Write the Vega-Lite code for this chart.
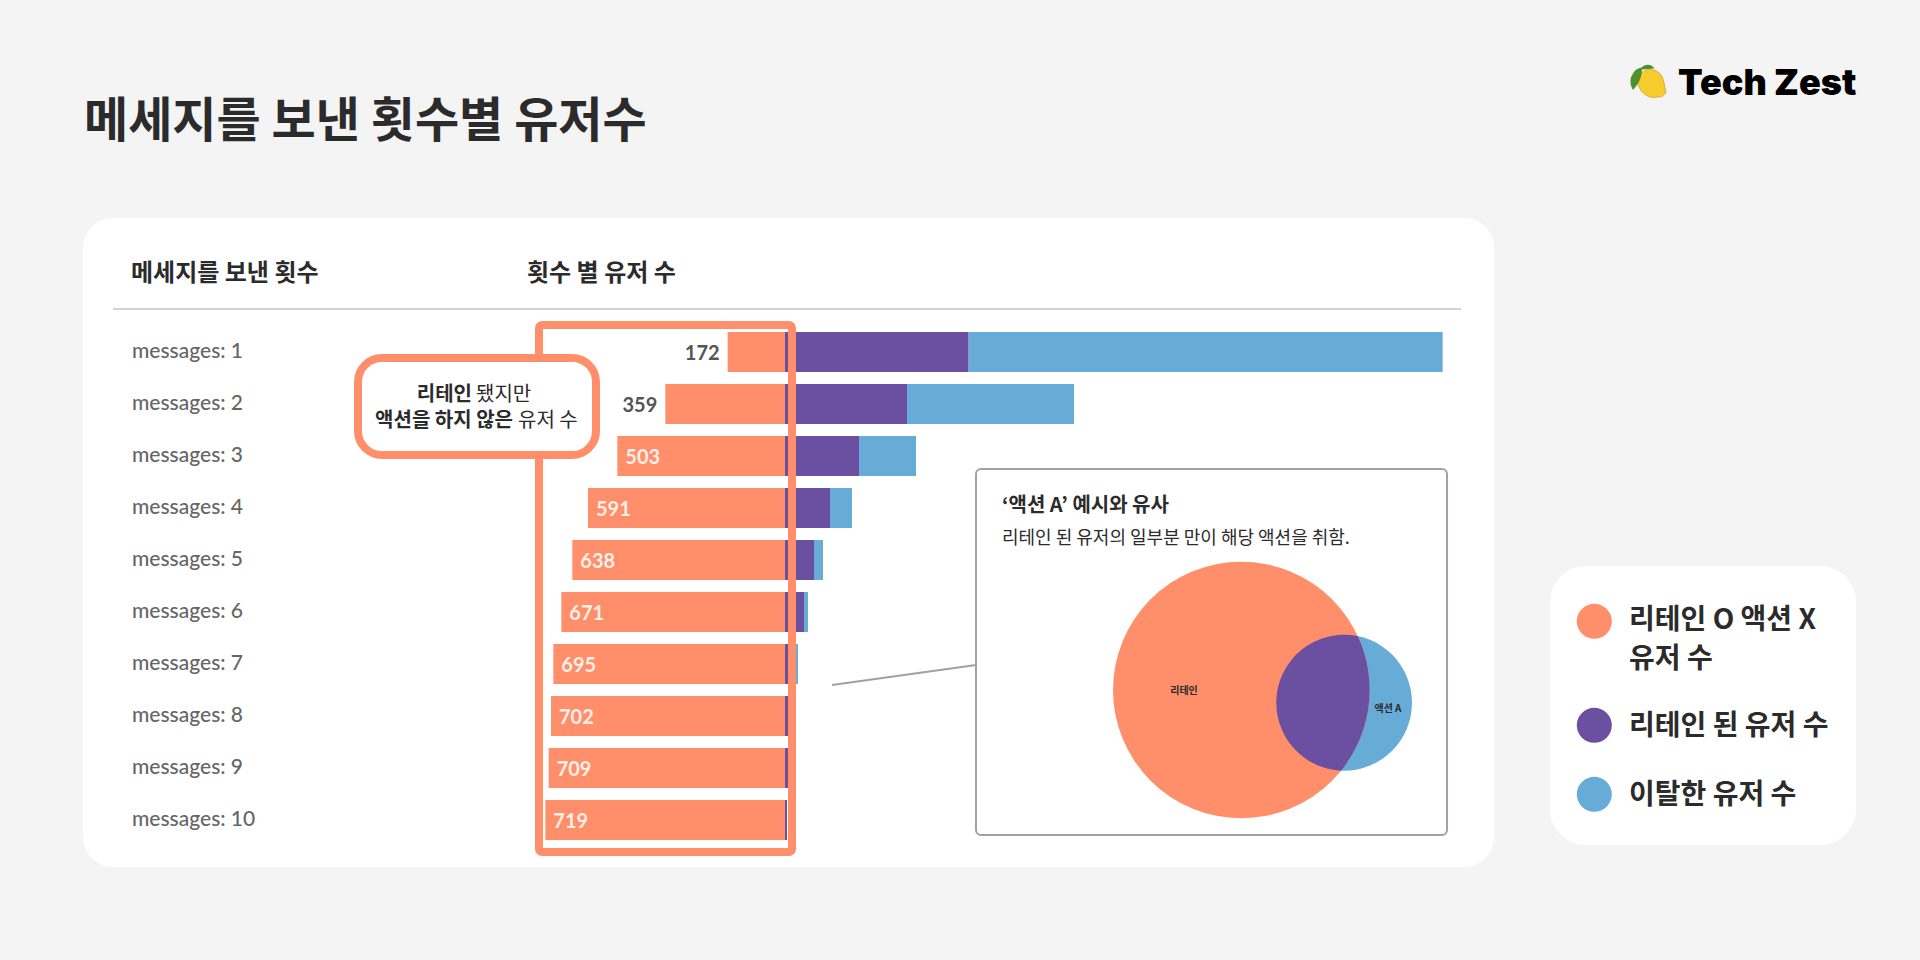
{
  "$schema": "https://vega.github.io/schema/vega-lite/v6.json",
  "width": 1920,
  "height": 960,
  "padding": 0,
  "autosize": {"type": "none"},
  "background": "#f4f4f4",
  "config": {"view": {"stroke": null}, "text": {"font": "Noto Sans CJK KR", "color": "#2b2b2b", "align": "left", "baseline": "middle", "dy": 2}},
  "datasets": {
    "users": [
      {"messages": 1, "segment": "no_action", "stack_order": 0, "users": -172, "count": 172},
      {"messages": 2, "segment": "no_action", "stack_order": 0, "users": -359, "count": 359},
      {"messages": 3, "segment": "no_action", "stack_order": 0, "users": -503, "count": 503},
      {"messages": 4, "segment": "no_action", "stack_order": 0, "users": -591, "count": 591},
      {"messages": 5, "segment": "no_action", "stack_order": 0, "users": -638, "count": 638},
      {"messages": 6, "segment": "no_action", "stack_order": 0, "users": -671, "count": 671},
      {"messages": 7, "segment": "no_action", "stack_order": 0, "users": -695, "count": 695},
      {"messages": 8, "segment": "no_action", "stack_order": 0, "users": -702, "count": 702},
      {"messages": 9, "segment": "no_action", "stack_order": 0, "users": -709, "count": 709},
      {"messages": 10, "segment": "no_action", "stack_order": 0, "users": -719, "count": 719},
      {"messages": 1, "segment": "retained", "stack_order": 1, "users": 551, "count": 551},
      {"messages": 2, "segment": "retained", "stack_order": 1, "users": 366, "count": 366},
      {"messages": 3, "segment": "retained", "stack_order": 1, "users": 222, "count": 222},
      {"messages": 4, "segment": "retained", "stack_order": 1, "users": 135, "count": 135},
      {"messages": 5, "segment": "retained", "stack_order": 1, "users": 87, "count": 87},
      {"messages": 6, "segment": "retained", "stack_order": 1, "users": 57, "count": 57},
      {"messages": 7, "segment": "retained", "stack_order": 1, "users": 30, "count": 30},
      {"messages": 8, "segment": "retained", "stack_order": 1, "users": 23, "count": 23},
      {"messages": 9, "segment": "retained", "stack_order": 1, "users": 16, "count": 16},
      {"messages": 10, "segment": "retained", "stack_order": 1, "users": 6, "count": 6},
      {"messages": 1, "segment": "churned", "stack_order": 2, "users": 1422, "count": 1422},
      {"messages": 2, "segment": "churned", "stack_order": 2, "users": 501, "count": 501},
      {"messages": 3, "segment": "churned", "stack_order": 2, "users": 171, "count": 171},
      {"messages": 4, "segment": "churned", "stack_order": 2, "users": 66, "count": 66},
      {"messages": 5, "segment": "churned", "stack_order": 2, "users": 27, "count": 27},
      {"messages": 6, "segment": "churned", "stack_order": 2, "users": 12, "count": 12},
      {"messages": 7, "segment": "churned", "stack_order": 2, "users": 9, "count": 9}
    ]
  },
  "layer": [
    {
      "data": {"values": [{"name": "main card"}]},
      "mark": {"type": "rect", "fill": "#ffffff", "cornerRadius": 30},
      "encoding": {
        "x": {"datum": -2106, "type": "quantitative", "axis": null, "scale": {"domain": [-2355, 3405], "nice": false, "zero": false, "padding": 0}},
        "x2": {"datum": 2127},
        "y": {"datum": -1.5769, "type": "quantitative", "axis": null, "scale": {"domain": [-5.7692, 12.6923], "nice": false, "zero": false, "reverse": true, "padding": 0}},
        "y2": {"datum": 10.9038}
      }
    },
    {
      "data": {"values": [{"name": "legend card"}]},
      "mark": {"type": "rect", "fill": "#ffffff", "cornerRadius": 36},
      "encoding": {
        "x": {"datum": 2295, "type": "quantitative"},
        "x2": {"datum": 3213},
        "y": {"datum": 5.1154, "type": "quantitative"},
        "y2": {"datum": 10.4808}
      }
    },
    {
      "data": {"values": [{"name": "divider"}]},
      "mark": {"type": "rule", "stroke": "#d2d2d6", "strokeWidth": 2},
      "encoding": {
        "x": {"datum": -2016, "type": "quantitative"},
        "x2": {"datum": 2028},
        "y": {"datum": 0.1731, "type": "quantitative"}
      }
    },
    {
      "data": {"values": [{"label": "메세지를 보낸 횟수별 유저수"}]},
      "mark": {"type": "text", "fontSize": 48, "fontWeight": 700, "dy": 4},
      "encoding": {
        "x": {"datum": -2103, "type": "quantitative"},
        "y": {"datum": -3.4808, "type": "quantitative"},
        "text": {"field": "label"}
      }
    },
    {
      "data": {"values": [{"label": "Tech Zest"}]},
      "mark": {"type": "text", "font": "Inter", "fontSize": 36, "fontWeight": 900, "color": "#000000"},
      "encoding": {
        "x": {"datum": 2679, "type": "quantitative"},
        "y": {"datum": -4.1923, "type": "quantitative"},
        "text": {"field": "label"}
      }
    },
    {
      "data": {"values": [{"name": "lemon"}]},
      "mark": {"type": "point", "filled": true, "opacity": 1, "size": 900, "color": "#f6cd2c", "stroke": "#e3ab3a", "strokeWidth": 1, "shape": "M-0.7,-0.6C-0.3,-1.05,0.4,-1,0.72,-0.45C0.9,-0.1,0.88,0.25,1,0.6C0.9,0.85,0.7,0.95,0.45,0.93C0.05,1.05,-0.5,0.85,-0.75,0.35C-0.95,-0.05,-0.95,-0.3,-0.7,-0.6Z"},
      "encoding": {
        "x": {"datum": 2598, "type": "quantitative"},
        "y": {"datum": -4.1731, "type": "quantitative"}
      }
    },
    {
      "data": {"values": [{"name": "leaf"}]},
      "mark": {"type": "point", "filled": true, "opacity": 1, "size": 576, "color": "#4f8f2c", "shape": "M-0.83,1.05C-1.1,0.6,-1.1,0.1,-0.9,-0.2C-0.75,-0.55,-0.5,-0.7,-0.33,-0.75L-0.08,-0.83C0.1,-1.05,0.6,-1.2,0.97,-0.75C0.6,-0.65,0.3,-0.7,-0.1,-0.65C-0.05,-0.2,-0.3,0.5,-0.83,1.05Z"},
      "encoding": {
        "x": {"datum": 2574, "type": "quantitative"},
        "y": {"datum": -4.2827, "type": "quantitative"}
      }
    },
    {
      "data": {"values": [{"label": "메세지를 보낸 횟수"}]},
      "mark": {"type": "text", "fontSize": 24, "fontWeight": 700},
      "encoding": {
        "x": {"datum": -1962, "type": "quantitative"},
        "y": {"datum": -0.5385, "type": "quantitative"},
        "text": {"field": "label"}
      }
    },
    {
      "data": {"values": [{"label": "횟수 별 유저 수"}]},
      "mark": {"type": "text", "fontSize": 24, "fontWeight": 700},
      "encoding": {
        "x": {"datum": -774, "type": "quantitative"},
        "y": {"datum": -0.5385, "type": "quantitative"},
        "text": {"field": "label"}
      }
    },
    {
      "data": {"values": [
        {"messages": 1, "label": "messages: 1"},
        {"messages": 2, "label": "messages: 2"},
        {"messages": 3, "label": "messages: 3"},
        {"messages": 4, "label": "messages: 4"},
        {"messages": 5, "label": "messages: 5"},
        {"messages": 6, "label": "messages: 6"},
        {"messages": 7, "label": "messages: 7"},
        {"messages": 8, "label": "messages: 8"},
        {"messages": 9, "label": "messages: 9"},
        {"messages": 10, "label": "messages: 10"}
      ]},
      "mark": {"type": "text", "font": "Lato", "fontSize": 21, "fontWeight": 500, "color": "#666666", "dy": 0},
      "encoding": {
        "x": {"datum": -1959, "type": "quantitative"},
        "y": {"field": "messages", "type": "quantitative"},
        "text": {"field": "label"}
      }
    },
    {
      "data": {"name": "users"},
      "mark": {"type": "bar", "orient": "horizontal", "size": 40},
      "encoding": {
        "x": {"field": "users", "type": "quantitative"},
        "y": {"field": "messages", "type": "quantitative"},
        "color": {
          "field": "segment",
          "type": "nominal",
          "legend": null,
          "scale": {"domain": ["no_action", "retained", "churned"], "range": ["#ff8f6b", "#6b4fa1", "#67acd7"]}
        },
        "order": {"field": "stack_order"}
      }
    },
    {
      "data": {"name": "users"},
      "transform": [{"filter": "datum.segment == 'no_action' && datum.count < 400"}],
      "mark": {"type": "text", "font": "Lato", "fontSize": 20, "fontWeight": 700, "color": "#555555", "align": "right", "dx": -8, "dy": 2},
      "encoding": {
        "x": {"field": "users", "type": "quantitative", "stack": null},
        "y": {"field": "messages", "type": "quantitative"},
        "text": {"field": "count", "type": "quantitative"}
      }
    },
    {
      "data": {"name": "users"},
      "transform": [{"filter": "datum.segment == 'no_action' && datum.count >= 400"}],
      "mark": {"type": "text", "font": "Lato", "fontSize": 20, "fontWeight": 700, "color": "#fdeee6", "align": "left", "dx": 8, "dy": 2},
      "encoding": {
        "x": {"field": "users", "type": "quantitative", "stack": null},
        "y": {"field": "messages", "type": "quantitative"},
        "text": {"field": "count", "type": "quantitative"}
      }
    },
    {
      "data": {"values": [{"name": "highlight box"}]},
      "mark": {"type": "rect", "fillOpacity": 0, "stroke": "#ff8f6b", "strokeWidth": 8, "cornerRadius": 3},
      "encoding": {
        "x": {"datum": -738, "type": "quantitative"},
        "x2": {"datum": 21},
        "y": {"datum": 0.4808, "type": "quantitative"},
        "y2": {"datum": 10.6154}
      }
    },
    {
      "data": {"values": [{"name": "callout"}]},
      "mark": {"type": "rect", "fill": "#ffffff", "stroke": "#ff8f6b", "strokeWidth": 8, "cornerRadius": 24},
      "encoding": {
        "x": {"datum": -1281, "type": "quantitative"},
        "x2": {"datum": -567},
        "y": {"datum": 1.1154, "type": "quantitative"},
        "y2": {"datum": 2.9808}
      }
    },
    {
      "data": {"values": [{"label": "리테인"}]},
      "mark": {"type": "text", "fontSize": 20, "fontWeight": 700, "align": "right"},
      "encoding": {
        "x": {"datum": -939, "type": "quantitative"},
        "y": {"datum": 1.7885, "type": "quantitative"},
        "text": {"field": "label"}
      }
    },
    {
      "data": {"values": [{"label": "됐지만"}]},
      "mark": {"type": "text", "fontSize": 20, "fontWeight": 400},
      "encoding": {
        "x": {"datum": -927, "type": "quantitative"},
        "y": {"datum": 1.7885, "type": "quantitative"},
        "text": {"field": "label"}
      }
    },
    {
      "data": {"values": [{"label": "액션을 하지 않은"}]},
      "mark": {"type": "text", "fontSize": 20, "fontWeight": 700, "align": "right"},
      "encoding": {
        "x": {"datum": -816, "type": "quantitative"},
        "y": {"datum": 2.2885, "type": "quantitative"},
        "text": {"field": "label"}
      }
    },
    {
      "data": {"values": [{"label": "유저 수"}]},
      "mark": {"type": "text", "fontSize": 20, "fontWeight": 400},
      "encoding": {
        "x": {"datum": -801, "type": "quantitative"},
        "y": {"datum": 2.2885, "type": "quantitative"},
        "text": {"field": "label"}
      }
    },
    {
      "data": {"values": [{"name": "leader"}]},
      "mark": {"type": "rule", "stroke": "#a0a0a8", "strokeWidth": 2},
      "encoding": {
        "x": {"datum": 141, "type": "quantitative"},
        "x2": {"datum": 573},
        "y": {"datum": 7.4038, "type": "quantitative"},
        "y2": {"datum": 7.0192}
      }
    },
    {
      "data": {"values": [{"name": "inset"}]},
      "mark": {"type": "rect", "fill": "#ffffff", "stroke": "#a0a0a8", "strokeWidth": 2, "cornerRadius": 5},
      "encoding": {
        "x": {"datum": 573, "type": "quantitative"},
        "x2": {"datum": 1986},
        "y": {"datum": 3.25, "type": "quantitative"},
        "y2": {"datum": 10.2885}
      }
    },
    {
      "data": {"values": [{"label": "‘액션 A’ 예시와 유사"}]},
      "mark": {"type": "text", "fontSize": 20, "fontWeight": 700},
      "encoding": {
        "x": {"datum": 651, "type": "quantitative"},
        "y": {"datum": 3.9231, "type": "quantitative"},
        "text": {"field": "label"}
      }
    },
    {
      "data": {"values": [{"label": "리테인 된 유저의 일부분 만이 해당 액션을 취함."}]},
      "mark": {"type": "text", "fontSize": 18, "fontWeight": 400},
      "encoding": {
        "x": {"datum": 651, "type": "quantitative"},
        "y": {"datum": 4.5577, "type": "quantitative"},
        "text": {"field": "label"}
      }
    },
    {
      "data": {"values": [{"set": "액션 A"}]},
      "mark": {"type": "point", "shape": "circle", "filled": true, "opacity": 1, "size": 18496, "color": "#67acd7"},
      "encoding": {
        "x": {"datum": 1677, "type": "quantitative"},
        "y": {"datum": 7.7442, "type": "quantitative"}
      }
    },
    {
      "data": {"values": [{"set": "리테인"}]},
      "mark": {"type": "point", "shape": "circle", "filled": true, "opacity": 1, "size": 65844, "color": "#ff8f6b"},
      "encoding": {
        "x": {"datum": 1368.9, "type": "quantitative"},
        "y": {"datum": 7.5, "type": "quantitative"}
      }
    },
    {
      "data": {"values": [{"set": "overlap"}]},
      "mark": {"type": "point", "filled": true, "opacity": 1, "size": 18496, "color": "#6b4fa1", "shape": "M0.2019,-0.9797A1,1,0,1,0,-0.0428,0.9994A1.8868,1.8868,0,0,0,0.2019,-0.9797Z"},
      "encoding": {
        "x": {"datum": 1677, "type": "quantitative"},
        "y": {"datum": 7.7442, "type": "quantitative"}
      }
    },
    {
      "data": {"values": [{"label": "리테인"}]},
      "mark": {"type": "text", "fontSize": 10, "fontWeight": 700, "align": "center", "dy": 1},
      "encoding": {
        "x": {"datum": 1197, "type": "quantitative"},
        "y": {"datum": 7.5, "type": "quantitative"},
        "text": {"field": "label"}
      }
    },
    {
      "data": {"values": [{"label": "액션 A"}]},
      "mark": {"type": "text", "fontSize": 10, "fontWeight": 700, "align": "center", "dy": 1},
      "encoding": {
        "x": {"datum": 1809, "type": "quantitative"},
        "y": {"datum": 7.8462, "type": "quantitative"},
        "text": {"field": "label"}
      }
    },
    {
      "data": {"values": [{"segment": "no_action"}]},
      "mark": {"type": "point", "shape": "circle", "filled": true, "opacity": 1, "size": 1225, "color": "#ff8f6b"},
      "encoding": {
        "x": {"datum": 2427.9, "type": "quantitative"},
        "y": {"datum": 6.1788, "type": "quantitative"}
      }
    },
    {
      "data": {"values": [{"segment": "retained"}]},
      "mark": {"type": "point", "shape": "circle", "filled": true, "opacity": 1, "size": 1225, "color": "#6b4fa1"},
      "encoding": {
        "x": {"datum": 2427.9, "type": "quantitative"},
        "y": {"datum": 8.1788, "type": "quantitative"}
      }
    },
    {
      "data": {"values": [{"segment": "churned"}]},
      "mark": {"type": "point", "shape": "circle", "filled": true, "opacity": 1, "size": 1225, "color": "#67acd7"},
      "encoding": {
        "x": {"datum": 2427.9, "type": "quantitative"},
        "y": {"datum": 9.5058, "type": "quantitative"}
      }
    },
    {
      "data": {"values": [{"label": "리테인 O 액션 X"}]},
      "mark": {"type": "text", "fontSize": 28, "fontWeight": 700},
      "encoding": {
        "x": {"datum": 2532, "type": "quantitative"},
        "y": {"datum": 6.1346, "type": "quantitative"},
        "text": {"field": "label"}
      }
    },
    {
      "data": {"values": [{"label": "유저 수"}]},
      "mark": {"type": "text", "fontSize": 28, "fontWeight": 700},
      "encoding": {
        "x": {"datum": 2532, "type": "quantitative"},
        "y": {"datum": 6.8846, "type": "quantitative"},
        "text": {"field": "label"}
      }
    },
    {
      "data": {"values": [{"label": "리테인 된 유저 수"}]},
      "mark": {"type": "text", "fontSize": 28, "fontWeight": 700},
      "encoding": {
        "x": {"datum": 2532, "type": "quantitative"},
        "y": {"datum": 8.1731, "type": "quantitative"},
        "text": {"field": "label"}
      }
    },
    {
      "data": {"values": [{"label": "이탈한 유저 수"}]},
      "mark": {"type": "text", "fontSize": 28, "fontWeight": 700},
      "encoding": {
        "x": {"datum": 2532, "type": "quantitative"},
        "y": {"datum": 9.5, "type": "quantitative"},
        "text": {"field": "label"}
      }
    }
  ]
}
